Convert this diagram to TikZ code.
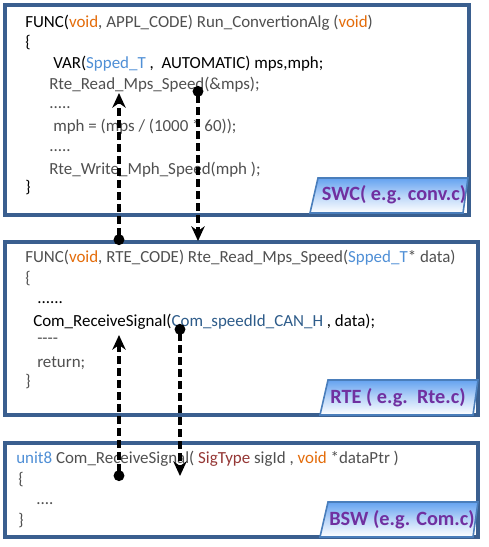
\documentclass[tikz,border=0pt]{standalone}
\usepackage{fontspec}
\setmainfont{Carlito}
\usetikzlibrary{arrows.meta,shadows}
\definecolor{frame}{RGB}{58,95,143}
\definecolor{txtgray}{RGB}{80,80,80}
\definecolor{kworange}{RGB}{228,108,10}
\definecolor{typeblue}{RGB}{79,143,214}
\definecolor{idblue}{RGB}{46,92,138}
\definecolor{sigred}{RGB}{149,55,53}
\definecolor{labpurple}{RGB}{112,48,160}
\definecolor{labtop}{RGB}{100,162,240}
\definecolor{labline}{RGB}{74,126,187}
\begin{document}
\begin{tikzpicture}[x=0.75pt,y=-0.75pt,
  codebox/.style={draw=frame,line width=2.4pt,fill=white,
    drop shadow={shadow xshift=1.5pt,shadow yshift=-1.5pt,opacity=0.3,fill=black!60}},
  code/.style={anchor=base west,inner sep=0pt,font=\fontsize{12.7}{15}\selectfont,text=txtgray},
  codeblack/.style={code,text=black},
  lab/.style={draw=labline,line width=1.2pt,top color=labtop,bottom color=white,middle color=labtop!45},
  labtext/.style={inner sep=0pt,font=\fontsize{15.2}{18}\selectfont\bfseries,text=labpurple},
  flow/.style={draw=black,line width=2.4pt,dash pattern=on 6pt off 3pt,
    {Circle[length=8pt,width=8pt]}-{Stealth[length=11pt,width=10pt,inset=3.5pt]}}]
\path[use as bounding box] (0,0) rectangle (489,547);

% boxes
\path[codebox] (5,5) rectangle (469,215);
\path[codebox] (5,242) rectangle (478,415);
\path[codebox] (5,443) rectangle (478,537);

% labels
\path[lab] (318,178) -- (468,178) -- (463,213) -- (310,213) -- cycle;
\node[labtext] (swc) at (394,195) {SWC( e.g. conv.c)};
\path[lab] (328,380) -- (478,380) -- (473,415) -- (320,415) -- cycle;
\node[labtext] (rte) at (398,398) {RTE ( e.g.\ \ Rte.c)};
\path[lab] (328,502) -- (478,502) -- (473,537) -- (320,537) -- cycle;
\node[labtext] (bsw) at (402,520) {BSW (e.g. Com.c)};

% SWC code
\node[codeblack] (s1) at (25,27) {FUNC(\textcolor{kworange}{void}\textcolor{txtgray}{, APPL\_CODE) Run\_ConvertionAlg (}\textcolor{kworange}{void}\textcolor{txtgray}{)}};
\node[codeblack] (s2) at (25,47) {\{};
\node[codeblack] (s3) at (53,68) {VAR(\textcolor{typeblue}{Spped\_T }, \ AUTOMATIC) mps,mph;};
\node[code] (s4) at (49,89) {Rte\_Read\_Mps\_Speed(\&mps);};
\node[code] (s5) at (49,108) {.....};
\node[code] (s6) at (53,131) {mph = (mps / (1000 * 60));};
\node[code] (s7) at (49,151) {.....};
\node[code] (s8) at (49,174) {Rte\_Write\_Mph\_Speed(mph );};
\node[codeblack] (s9) at (25,192) {\}};

% RTE code
\node[code] (r1) at (25,262) {FUNC(\textcolor{kworange}{void}, RTE\_CODE) Rte\_Read\_Mps\_Speed(\textcolor{typeblue}{Spped\_T}* data)};
\node[code] (r2) at (25,283) {\{};
\node[codeblack] (r3) at (37,303) {......};
\node[codeblack] (r4) at (33,326) {Com\_ReceiveSignal(\textcolor{idblue}{Com\_speedId\_CAN\_H} , data);};
\node[code] (r5) at (37,343) {{-}{-}{-}{-}};
\node[code] (r6) at (37,367) {return;};
\node[code] (r7) at (25,386) {\}};

% BSW code
\node[code] (b1) at (16,463) {\textcolor{typeblue}{unit8} Com\_ReceiveSignal( \textcolor{sigred}{SigType} sigId , \textcolor{kworange}{void} *dataPtr )};
\node[code] (b2) at (18,484) {\{};
\node[code] (b3) at (36,504) {....};
\node[code] (b4) at (18,525) {\}};

% connector ends
\coordinate (a0) at (119,245);
\coordinate (a1) at (119,93);
\coordinate (c0) at (198,86);
\coordinate (c1) at (198,241);
\coordinate (d0) at (119,481);
\coordinate (d1) at (119,335);
\coordinate (e0) at (180,324);
\coordinate (e1) at (180,476);

\draw[flow] (a0) -- (a1);
\draw[flow] (c0) -- (c1);
\draw[flow] (d0) -- (d1);
\draw[flow] (e0) -- (e1);
\end{tikzpicture}
\end{document}
